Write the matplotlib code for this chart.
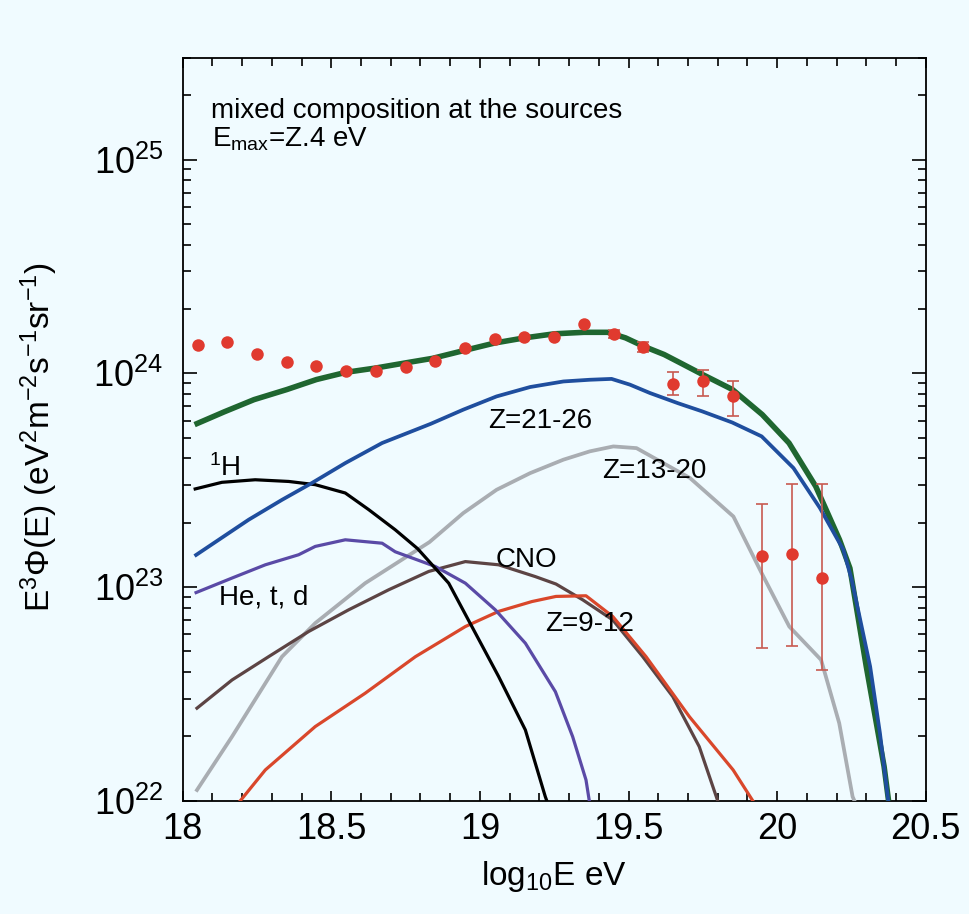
import numpy as np
import matplotlib
matplotlib.use('Agg')
import matplotlib.pyplot as plt

# log10(E/eV) and log10(E^3 Phi)
total_x = [18.04, 18.14, 18.24, 18.35, 18.45, 18.55, 18.65, 18.75, 18.84, 18.95, 19.05, 19.15, 19.25, 19.35,
           19.43, 19.49, 19.55, 19.62, 19.67, 19.75, 19.85, 19.95, 20.04, 20.13, 20.21, 20.245, 20.30, 20.36, 20.375]
total_y = [23.76, 23.82, 23.877, 23.924, 23.971, 24.005, 24.025, 24.049, 24.07, 24.108, 24.142, 24.166, 24.185, 24.192,
           24.192, 24.166, 24.127, 24.088, 24.052, 23.994, 23.924, 23.807, 23.674, 23.471, 23.221, 23.088, 22.628, 22.16, 22.0]

fe_x = [18.045, 18.222, 18.334, 18.435, 18.547, 18.671, 18.835, 18.944, 19.056, 19.169, 19.281, 19.37, 19.443,
        19.505, 19.572, 19.667, 19.748, 19.849, 19.948, 20.055, 20.144, 20.223, 20.251, 20.313, 20.346, 20.374]
fe_y = [23.15, 23.315, 23.408, 23.487, 23.58, 23.674, 23.764, 23.83, 23.892, 23.936, 23.962, 23.97, 23.974,
        23.947, 23.908, 23.86, 23.822, 23.77, 23.705, 23.557, 23.37, 23.174, 23.034, 22.628, 22.316, 22.0]

h_x = [18.042, 18.132, 18.244, 18.357, 18.446, 18.547, 18.626, 18.715, 18.79, 18.895, 18.973, 19.063, 19.153, 19.22, 19.225]
h_y = [23.459, 23.49, 23.502, 23.494, 23.479, 23.44, 23.362, 23.268, 23.18, 23.018, 22.815, 22.581, 22.331, 22.019, 22.0]

he_x = [18.045, 18.166, 18.278, 18.39, 18.446, 18.547, 18.671, 18.715, 18.85, 18.951, 19.052, 19.153, 19.254, 19.312, 19.357, 19.368]
he_y = [22.974, 23.042, 23.104, 23.151, 23.19, 23.221, 23.205, 23.165, 23.096, 23.018, 22.893, 22.737, 22.51, 22.3, 22.097, 22.0]

cno_x = [18.048, 18.166, 18.289, 18.424, 18.558, 18.693, 18.828, 18.951, 19.063, 19.186, 19.256, 19.346, 19.447, 19.548, 19.649, 19.738, 19.8]
cno_y = [22.433, 22.565, 22.674, 22.792, 22.893, 22.987, 23.073, 23.119, 23.104, 23.049, 23.014, 22.94, 22.846, 22.674, 22.487, 22.253, 22.0]

mg_x = [18.194, 18.278, 18.446, 18.614, 18.783, 18.951, 19.063, 19.175, 19.256, 19.357, 19.447, 19.559, 19.705, 19.852, 19.918]
mg_y = [22.0, 22.144, 22.347, 22.503, 22.674, 22.815, 22.886, 22.932, 22.956, 22.959, 22.862, 22.674, 22.393, 22.144, 22.0]

si_x = [18.048, 18.166, 18.334, 18.446, 18.614, 18.83, 18.944, 19.056, 19.169, 19.281, 19.37, 19.449, 19.527,
        19.707, 19.853, 19.948, 20.041, 20.148, 20.209, 20.254, 20.26]
si_y = [22.05, 22.3, 22.674, 22.831, 23.018, 23.21, 23.346, 23.455, 23.533, 23.596, 23.635, 23.658, 23.65,
        23.51, 23.33, 23.065, 22.815, 22.659, 22.363, 22.019, 22.0]

data_x = [18.05, 18.15, 18.25, 18.35, 18.45, 18.55, 18.65, 18.75, 18.85, 18.95, 19.05,
          19.15, 19.25, 19.35, 19.45, 19.55, 19.65, 19.75, 19.85, 19.95, 20.05, 20.15]
data_y = [24.134, 24.145, 24.092, 24.055, 24.033, 24.009, 24.009, 24.028, 24.056, 24.119, 24.163,
          24.171, 24.171, 24.23, 24.185, 24.124, 23.95, 23.966, 23.892, 23.143, 23.156, 23.042]

err_x = [19.45, 19.55, 19.65, 19.75, 19.85, 19.95, 20.05, 20.15]
err_lo = [24.165, 24.10, 23.900, 23.892, 23.802, 22.714, 22.726, 22.612]
err_hi = [24.205, 24.145, 24.005, 24.014, 23.966, 23.39, 23.483, 23.483]

bg = '#f0fbff'
plt.rcParams['font.family'] = ['Liberation Sans', 'DejaVu Sans']
plt.rcParams['mathtext.fontset'] = 'custom'
plt.rcParams['mathtext.rm'] = 'Liberation Sans'
plt.rcParams['mathtext.it'] = 'Liberation Sans:italic'
plt.rcParams['mathtext.default'] = 'regular'

fig = plt.figure(figsize=(9.69, 9.14), dpi=100, facecolor=bg)
ax = fig.add_axes([0.18855, 0.12396, 0.76677, 0.8129], facecolor=bg)

p = lambda v: 10 ** np.array(v)

ax.plot(total_x, p(total_y), color='#1f6630', lw=4.0, solid_capstyle='butt', zorder=3)
ax.plot(fe_x, p(fe_y), color='#1f4e9e', lw=2.7, zorder=4)
ax.plot(si_x, p(si_y), color='#a9adb2', lw=2.7, zorder=3)
ax.plot(cno_x, p(cno_y), color='#5c4444', lw=2.3, zorder=3)
ax.plot(mg_x, p(mg_y), color='#d9472b', lw=2.3, zorder=3)
ax.plot(he_x, p(he_y), color='#5a4aa6', lw=2.3, zorder=3)
ax.plot(h_x, p(h_y), color='black', lw=2.3, zorder=3)

ex = np.array(err_x)
ey = np.interp(ex, data_x, data_y)
yerr = [p(ey) - p(err_lo), p(err_hi) - p(ey)]
ax.errorbar(ex, p(ey), yerr=yerr, fmt='none', ecolor='#c85a50', elinewidth=1.2, capsize=4, capthick=1.2, zorder=4)
ax.plot(data_x, p(data_y), 'o', color='#e03a2f', ms=9, mec='none', zorder=5)

fs = 20
ax.text(18.095, p(25.196), 'mixed composition at the sources', fontsize=fs, va='baseline')
ax.text(18.10, p(25.06), r'E$_{max}$=Z.4 eV', fontsize=fs, va='baseline')
ax.text(19.028, p(23.744), 'Z=21-26', fontsize=fs, va='baseline')
ax.text(19.41, p(23.51), 'Z=13-20', fontsize=fs, va='baseline')
ax.text(18.087, p(23.518), r'$^{1}$H', fontsize=fs, va='baseline')
ax.text(18.121, p(22.917), 'He, t, d', fontsize=fs, va='baseline')
ax.text(19.052, p(23.096), 'CNO', fontsize=fs, va='baseline')
ax.text(19.22, p(22.792), 'Z=9-12', fontsize=fs, va='baseline')

ax.set_yscale('log')
ax.set_xlim(18, 20.5)
ax.set_ylim(1e22, 3e25)
ax.set_xticks([18, 18.5, 19, 19.5, 20, 20.5])
ax.set_xticklabels(['18', '18.5', '19', '19.5', '20', '20.5'])
ax.set_xticks(np.arange(18, 20.51, 0.1), minor=True)

ax.tick_params(which='both', direction='in', top=True, right=True, width=1.2)
ax.tick_params(axis='x', which='major', length=7, labelsize=26, pad=8)
ax.tick_params(axis='x', which='minor', length=6)
ax.tick_params(axis='y', which='major', length=10, labelsize=26, pad=14)
ax.tick_params(axis='y', which='minor', length=5.5)
for s in ax.spines.values():
    s.set_linewidth(1.3)

ax.set_xlabel(r'log$_{10}$E eV', fontsize=24)
ax.set_ylabel(r'E$^3$Φ(E) (eV$^2$m$^{-2}$s$^{-1}$sr$^{-1}$)', fontsize=24)
ax.xaxis.set_label_coords(0.5, -0.078)
ax.yaxis.set_label_coords(-0.165, 0.49)

fig.savefig('out.png', dpi=100, facecolor=bg)
